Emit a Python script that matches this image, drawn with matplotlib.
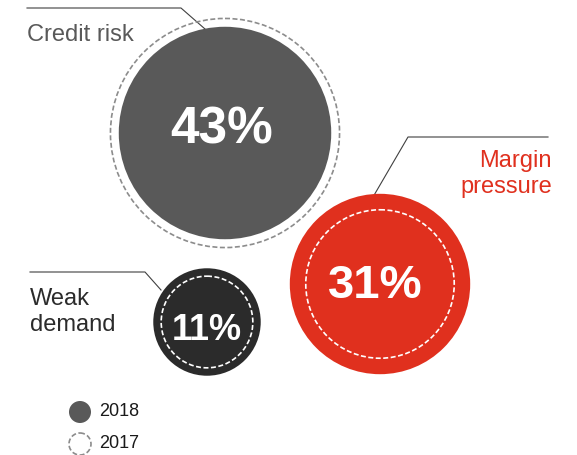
import numpy as np
import matplotlib.pyplot as plt
from matplotlib.patches import Circle

plt.rcParams['font.family'] = ['Liberation Sans', 'DejaVu Sans']

# Share of respondents per risk, 2018 vs 2017
risks = ['Credit risk', 'Margin\npressure', 'Weak\ndemand']
share_2018 = [43, 31, 11]
share_2017 = [50, 21, 8]
years = ['2018', '2017']

# Layout (pixel space, y pointing down)
centers = [(225, 133), (380, 284), (207, 322)]
fills = ['#595959', '#E0301E', '#2B2B2B']
ring_colors = ['#8C8C8C', 'white', 'white']
label_pos = [(27, 35, 'left'), (552, 174, 'right'), (30, 312, 'left')]
label_colors = ['#595959', '#E0301E', '#2B2B2B']
value_sizes = [37, 34, 26]
value_offsets = [(-3, 10), (-5, 14), (0, 18)]  # baseline of the % text relative to centre
leaders = [
    [(27, 8), (181, 8), (205, 29)],
    [(548, 137), (408, 137), (373, 197)],
    [(30, 272), (145, 272), (161, 290)],
]
scale = 16.2  # radius per sqrt(percent), area proportional to share

fig = plt.figure(figsize=(5.77, 4.55), dpi=100)
ax = fig.add_axes([0, 0, 1, 1])
ax.set_xlim(0, 577)
ax.set_ylim(455, 0)
ax.axis('off')

for i in range(len(risks)):
    cx, cy = centers[i]
    r18 = scale * np.sqrt(share_2018[i])
    r17 = scale * np.sqrt(share_2017[i])
    ax.add_patch(Circle((cx, cy), r18, facecolor=fills[i], edgecolor='none', zorder=2))
    ax.add_patch(Circle((cx, cy), r17, fill=False, edgecolor=ring_colors[i],
                        linewidth=1.2, linestyle=(0, (3, 1.5)), zorder=3))
    dx, dy = value_offsets[i]
    ax.text(cx + dx, cy + dy, f'{share_2018[i]}%', color='white', fontsize=value_sizes[i],
            fontweight='bold', ha='center', va='baseline', zorder=4)

    xs, ys = zip(*leaders[i])
    ax.plot(xs, ys, color='#404040', linewidth=0.8, zorder=1)
    lx, ly, ha = label_pos[i]
    ax.text(lx, ly, risks[i], color=label_colors[i], fontsize=17,
            ha=ha, va='center', linespacing=1.2)

# Legend
ax.add_patch(Circle((80, 412), 11, facecolor='#595959', edgecolor='none'))
ax.add_patch(Circle((80, 444), 11, fill=False, edgecolor='#8C8C8C',
                    linewidth=1.2, linestyle=(0, (3, 1.5))))
ax.text(99, 411, years[0], fontsize=13, color='#1A1A1A', ha='left', va='center')
ax.text(99, 444, years[1], fontsize=13, color='#1A1A1A', ha='left', va='center')

plt.savefig('out.png', dpi=100)
